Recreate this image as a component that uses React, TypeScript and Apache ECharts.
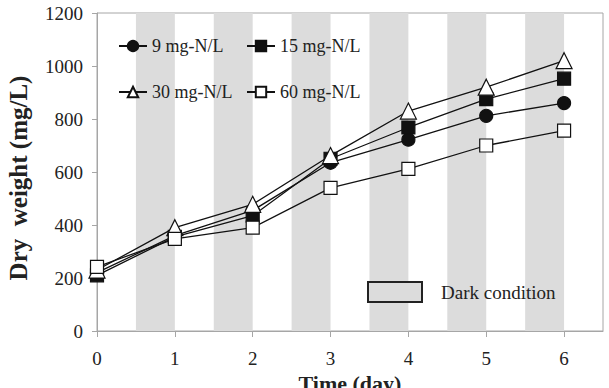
import React, { useEffect, useRef } from "react";
import * as echarts from "echarts";

// Sampling days
const days = [0, 1, 2, 3, 4, 5, 6];

// Dry weight (mg/L) per nitrogen concentration
const n9 = [220, 360, 455, 635, 722, 812, 860];
const n15 = [210, 355, 435, 650, 768, 875, 952];
const n30 = [230, 390, 478, 662, 830, 920, 1020];
const n60 = [242, 348, 390, 540, 612, 700, 756];

const seriesNames = ["9 mg-N/L", "15 mg-N/L", "30 mg-N/L", "60 mg-N/L"];

// Dark periods, [start, end] in days
const darkPeriods: [number, number][] = [
  [0.5, 1],
  [1.5, 2],
  [2.5, 3],
  [3.5, 4],
  [4.5, 5],
  [5.5, 6],
];

const yTicks = [0, 200, 400, 600, 800, 1000, 1200];

const FONT = "Liberation Serif";
const TEXT = "#222";
const AXIS = "#a6a6a6";
const DARK_FILL = "#dcdcdc";

export default function App() {
  const ref = useRef<HTMLDivElement>(null);

  useEffect(() => {
    if (!ref.current) return;
    const chart = echarts.init(ref.current, null, { renderer: "svg" });

    const mkSeries = (
      name: string,
      values: number[],
      symbol: string,
      size: number,
      fill: string
    ) => ({
      name,
      type: "line",
      data: days.map((d, i) => [d, values[i]]),
      symbol,
      symbolSize: size,
      lineStyle: { color: "#111", width: 1.3 },
      itemStyle: { color: fill, borderColor: "#111", borderWidth: 1.2 },
      z: 3,
    });

    const legendAt = (name: string, left: number, top: number) => ({
      data: [name],
      left,
      top,
      itemWidth: 28,
      itemHeight: 13,
      itemGap: 0,
      padding: 0,
      textStyle: { fontFamily: FONT, fontSize: 18, color: TEXT },
    });

    chart.setOption({
      animation: false,
      backgroundColor: "#fff",
      grid: {
        left: 97,
        right: 6,
        top: 13,
        bottom: 57,
        outerBoundsMode: "none",
        show: true,
        borderColor: AXIS,
        borderWidth: 1,
      },
      legend: [
        legendAt(seriesNames[0], 118, 37),
        legendAt(seriesNames[1], 246, 37),
        legendAt(seriesNames[2], 118, 83),
        legendAt(seriesNames[3], 246, 83),
      ],
      xAxis: {
        type: "value",
        min: 0,
        max: 6.5,
        interval: 1,
        name: "Time (day)",
        nameLocation: "middle",
        nameGap: 39,
        nameTextStyle: {
          fontFamily: FONT,
          fontSize: 22,
          fontWeight: "bold",
          color: TEXT,
        },
        axisLine: { lineStyle: { color: AXIS, width: 1 } },
        axisTick: {
          show: true,
          length: 6,
          lineStyle: { color: AXIS },
          customValues: days,
        },
        axisLabel: {
          fontFamily: FONT,
          fontSize: 19,
          color: TEXT,
          margin: 18,
          customValues: days,
          formatter: (v: number) => String(v),
        },
        splitLine: { show: false },
      },
      yAxis: {
        type: "value",
        min: 0,
        max: 1200,
        interval: 200,
        name: "Dry  weight (mg/L)",
        nameLocation: "middle",
        nameGap: 66,
        nameTextStyle: {
          fontFamily: FONT,
          fontSize: 25,
          fontWeight: "bold",
          color: TEXT,
          padding: [0, 12, 0, 0],
        },
        axisLine: { show: true, lineStyle: { color: AXIS, width: 1 } },
        axisTick: {
          show: true,
          length: 5,
          lineStyle: { color: AXIS },
          customValues: yTicks,
        },
        axisLabel: {
          fontFamily: FONT,
          fontSize: 19,
          color: TEXT,
          margin: 14,
          customValues: yTicks,
          formatter: (v: number) => String(v),
        },
        splitLine: { show: false },
      },
      series: [
        {
          name: "dark",
          type: "line",
          data: [],
          silent: true,
          markArea: {
            silent: true,
            itemStyle: { color: DARK_FILL },
            data: darkPeriods.map(([s, e]) => [{ xAxis: s }, { xAxis: e }]),
          },
          z: 1,
        },
        mkSeries(seriesNames[0], n9, "circle", 13, "#111"),
        mkSeries(seriesNames[1], n15, "rect", 13, "#111"),
        mkSeries(seriesNames[2], n30, "triangle", 16, "#fff"),
        mkSeries(seriesNames[3], n60, "rect", 13, "#fff"),
      ],
      graphic: [
        {
          type: "rect",
          shape: { x: 368, y: 282, width: 54, height: 20 },
          style: { fill: DARK_FILL, stroke: "#222", lineWidth: 2 },
          z: 10,
        },
        {
          type: "text",
          x: 441,
          y: 292,
          style: {
            text: "Dark condition",
            fontFamily: FONT,
            fontSize: 19,
            fill: TEXT,
            verticalAlign: "middle",
          },
          z: 10,
        },
      ],
    });

    return () => chart.dispose();
  }, []);

  return (
    <div
      ref={ref}
      style={{ position: "fixed", left: 0, top: 0, width: 609, height: 388 }}
    />
  );
}
